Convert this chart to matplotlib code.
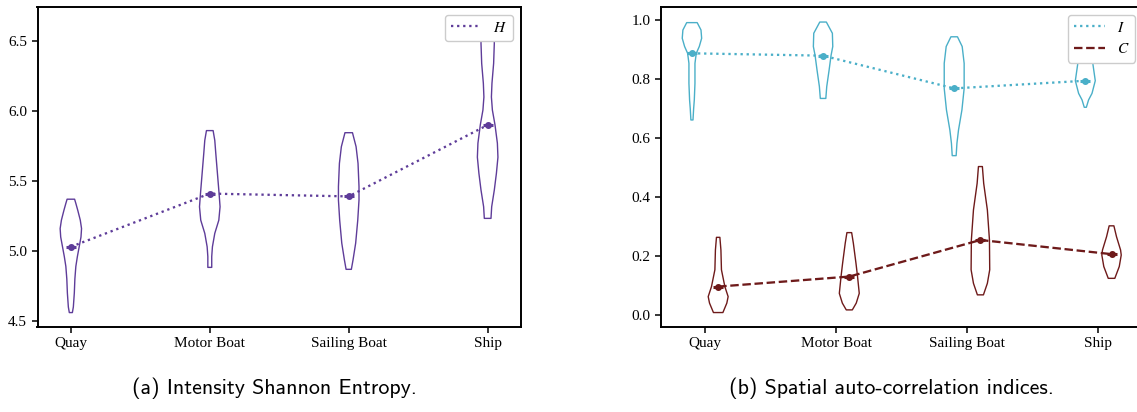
import numpy as np
import matplotlib.pyplot as plt

plt.rcParams['font.family'] = 'serif'
plt.rcParams['font.serif'] = ['Liberation Serif', 'DejaVu Serif']
plt.rcParams['mathtext.fontset'] = 'stix'

categories = ['Quay', 'Motor Boat', 'Sailing Boat', 'Ship']

# Shannon entropy: violin outlines (y, half-width) and means
H_coords = [
    [4.56, 4.60, 4.70, 4.80, 4.89, 4.96, 5.03, 5.10, 5.16, 5.22, 5.29, 5.34, 5.37],
    [4.883, 4.96, 5.03, 5.126, 5.22, 5.316, 5.41, 5.555, 5.70, 5.79, 5.86],
    [4.869, 4.936, 5.056, 5.22, 5.364, 5.46, 5.626, 5.745, 5.845],
    [5.233, 5.316, 5.436, 5.555, 5.67, 5.77, 5.90, 6.007, 6.10, 6.198, 6.34, 6.486, 6.58, 6.64],
]
H_width = [
    [0.011, 0.018, 0.025, 0.029, 0.036, 0.047, 0.060, 0.073, 0.077, 0.068, 0.050, 0.036, 0.027],
    [0.014, 0.014, 0.019, 0.036, 0.065, 0.074, 0.067, 0.055, 0.043, 0.036, 0.024],
    [0.019, 0.031, 0.050, 0.065, 0.074, 0.074, 0.067, 0.053, 0.027],
    [0.024, 0.029, 0.048, 0.063, 0.074, 0.070, 0.053, 0.034, 0.027, 0.031, 0.043, 0.048, 0.043, 0.032],
]
H_mean = [5.03, 5.41, 5.39, 5.90]

# Moran's I
I_coords = [
    [0.661, 0.70, 0.729, 0.785, 0.853, 0.887, 0.91, 0.938, 0.966, 0.991],
    [0.734, 0.774, 0.83, 0.88, 0.91, 0.955, 0.993],
    [0.54, 0.582, 0.627, 0.695, 0.768, 0.853, 0.91, 0.943],
    [0.704, 0.729, 0.751, 0.794, 0.847, 0.90, 0.94],
]
I_width = [
    [0.008, 0.013, 0.018, 0.023, 0.023, 0.033, 0.056, 0.074, 0.069, 0.040],
    [0.021, 0.028, 0.046, 0.061, 0.074, 0.071, 0.025],
    [0.015, 0.021, 0.033, 0.059, 0.076, 0.076, 0.061, 0.025],
    [0.008, 0.025, 0.051, 0.076, 0.059, 0.046, 0.031],
]
I_mean = [0.887, 0.879, 0.768, 0.794]

# Geary's C
C_coords = [
    [0.008, 0.04, 0.062, 0.096, 0.153, 0.22, 0.263],
    [0.017, 0.04, 0.073, 0.13, 0.175, 0.243, 0.279],
    [0.068, 0.107, 0.153, 0.254, 0.356, 0.446, 0.503],
    [0.124, 0.164, 0.203, 0.22, 0.265, 0.302],
]
C_width = [
    [0.036, 0.066, 0.076, 0.051, 0.025, 0.021, 0.013],
    [0.023, 0.053, 0.076, 0.063, 0.051, 0.031, 0.018],
    [0.023, 0.053, 0.071, 0.069, 0.053, 0.025, 0.015],
    [0.025, 0.059, 0.074, 0.069, 0.038, 0.018],
]
C_mean = [0.096, 0.130, 0.254, 0.206]

purple = '#5e3c99'
cyan = '#4aafc8'
maroon = '#6e1a1a'


def draw_group(ax, pos, coords, widths, means, color, ls, label):
    stats = []
    for c, w, m in zip(coords, widths, means):
        stats.append(dict(coords=np.array(c), vals=np.array(w), mean=m,
                          median=m, min=c[0], max=c[-1]))
    parts = ax.violin(stats, positions=pos, widths=[2 * max(w) for w in widths],
                      showmeans=False, showextrema=False, showmedians=False)
    for body in parts['bodies']:
        body.set_facecolor('none')
        body.set_edgecolor(color)
        body.set_linewidth(1.0)
        body.set_alpha(1)
    ax.plot(pos, means, ls=ls, lw=1.65, color=color, label=label, zorder=3)
    ax.plot(pos, means, ls='none', marker='o', ms=4, color=color, zorder=4)
    ax.plot(pos, means, ls='none', marker='_', ms=7.5, mew=2.2, color=color, zorder=4)


fig = plt.figure(figsize=(11.37, 4.12), dpi=100)
ax1 = fig.add_axes([37.5 / 1137, 85 / 412, 483.5 / 1137, 320 / 412])
ax2 = fig.add_axes([661 / 1137, 85 / 412, 482 / 1137, 320 / 412])

x = np.arange(len(categories))

draw_group(ax1, x, H_coords, H_width, H_mean, purple, ':', '$H$')
ax1.set_xlim(-0.24, 3.24)
ax1.set_ylim(4.457, 6.743)
ax1.set_yticks([4.5, 5.0, 5.5, 6.0, 6.5])

draw_group(ax2, x - 0.1, I_coords, I_width, I_mean, cyan, ':', '$I$')
draw_group(ax2, x + 0.1, C_coords, C_width, C_mean, maroon, '--', '$C$')
ax2.set_xlim(-0.336, 3.34)
ax2.set_ylim(-0.041, 1.044)
ax2.set_yticks([0.0, 0.2, 0.4, 0.6, 0.8, 1.0])

for ax in (ax1, ax2):
    ax.set_xticks(x)
    ax.set_xticklabels(categories)
    ax.tick_params(labelsize=11, width=1.1, length=4)
    for sp in ax.spines.values():
        sp.set_linewidth(1.4)
    ax.legend(loc='upper right', fontsize=11, framealpha=1)

fig.text(274 / 1137, 1 - 388 / 412, '(a) Intensity Shannon Entropy.',
         family='cmss10', fontsize=15.8, ha='center', va='center')
fig.text(891 / 1137, 1 - 388 / 412, '(b) Spatial auto-correlation indices.',
         family='cmss10', fontsize=15.8, ha='center', va='center')

fig.savefig('out.png', dpi=100)
